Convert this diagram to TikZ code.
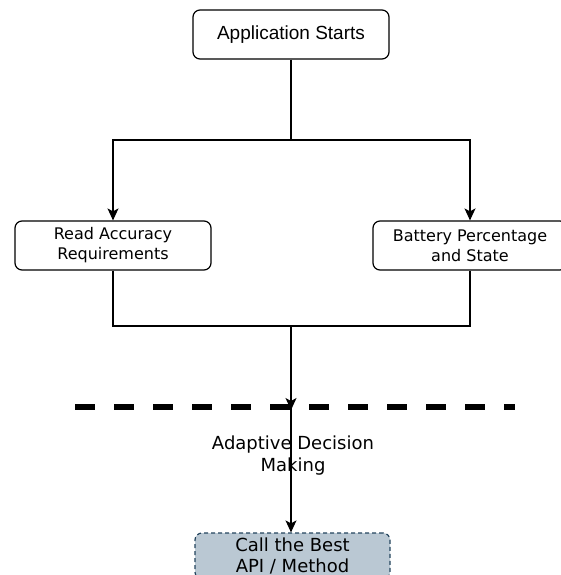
\documentclass[tikz,border=0pt]{standalone}
\usepackage{fontspec}
\setmainfont{DejaVu Sans}
\newfontfamily\arialfont{Liberation Sans}
\usetikzlibrary{arrows.meta}
\definecolor{callfill}{HTML}{BAC8D3}
\definecolor{calldraw}{HTML}{23445D}
\tikzset{
  procbox/.style={draw=black, line width=1.2pt, rounded corners=7pt, minimum width=196pt, minimum height=49pt, align=center, inner sep=0pt},
  conn/.style={draw=black, line width=1.2pt},
  arr/.style={conn, -{Stealth[length=12pt, width=11pt, inset=3pt]}},
  callbox/.style={draw=calldraw, fill=callfill, line width=1.2pt, dash pattern=on 4pt off 3pt, rounded corners=7pt, minimum width=195pt, minimum height=46pt, align=center, inner sep=0pt},
  sep/.style={draw=black, line width=6pt, dash pattern=on 20pt off 19pt}
}
\begin{document}
\begin{tikzpicture}[x=1pt, y=-1pt]
\useasboundingbox (0,0) rectangle (561,575);
\clip (0,0) rectangle (561,575);
\node[procbox, font=\arialfont\fontsize{19}{22}\selectfont] (start) at (291,34.5) {Application Starts};
\node[procbox, font=\fontsize{16}{20}\selectfont] (read) at (113,245.5) {Read Accuracy\\Requirements};
\node[procbox, minimum width=194pt, font=\fontsize{16}{20}\selectfont] (batt) at (470,245.5) {Battery Percentage\\and State};
\node[callbox, font=\fontsize{18}{20.5}\selectfont] (call) at (292.5,556) {Call the Best\\API / Method};
\coordinate (split) at (291,140);
\coordinate (join) at (291,326);
\coordinate (sepl) at (75,407);
\coordinate (sepr) at (515,407);
\coordinate (cross) at (291,407);
\draw[sep] (sepl) -- (sepr);
\draw[conn] (start.south) -- (split);
\draw[arr] (split) -| (read.north);
\draw[arr] (split) -| (batt.north);
\draw[conn] (read.south) |- (join);
\draw[conn] (batt.south) |- (join);
\draw[arr] (join) -- ([yshift=-3pt]cross);
\draw[arr] (cross) -- (cross |- call.north);
\node[align=center, font=\fontsize{18}{22}\selectfont] (adapt) at (293,456) {Adaptive Decision\\Making};
\end{tikzpicture}
\end{document}
